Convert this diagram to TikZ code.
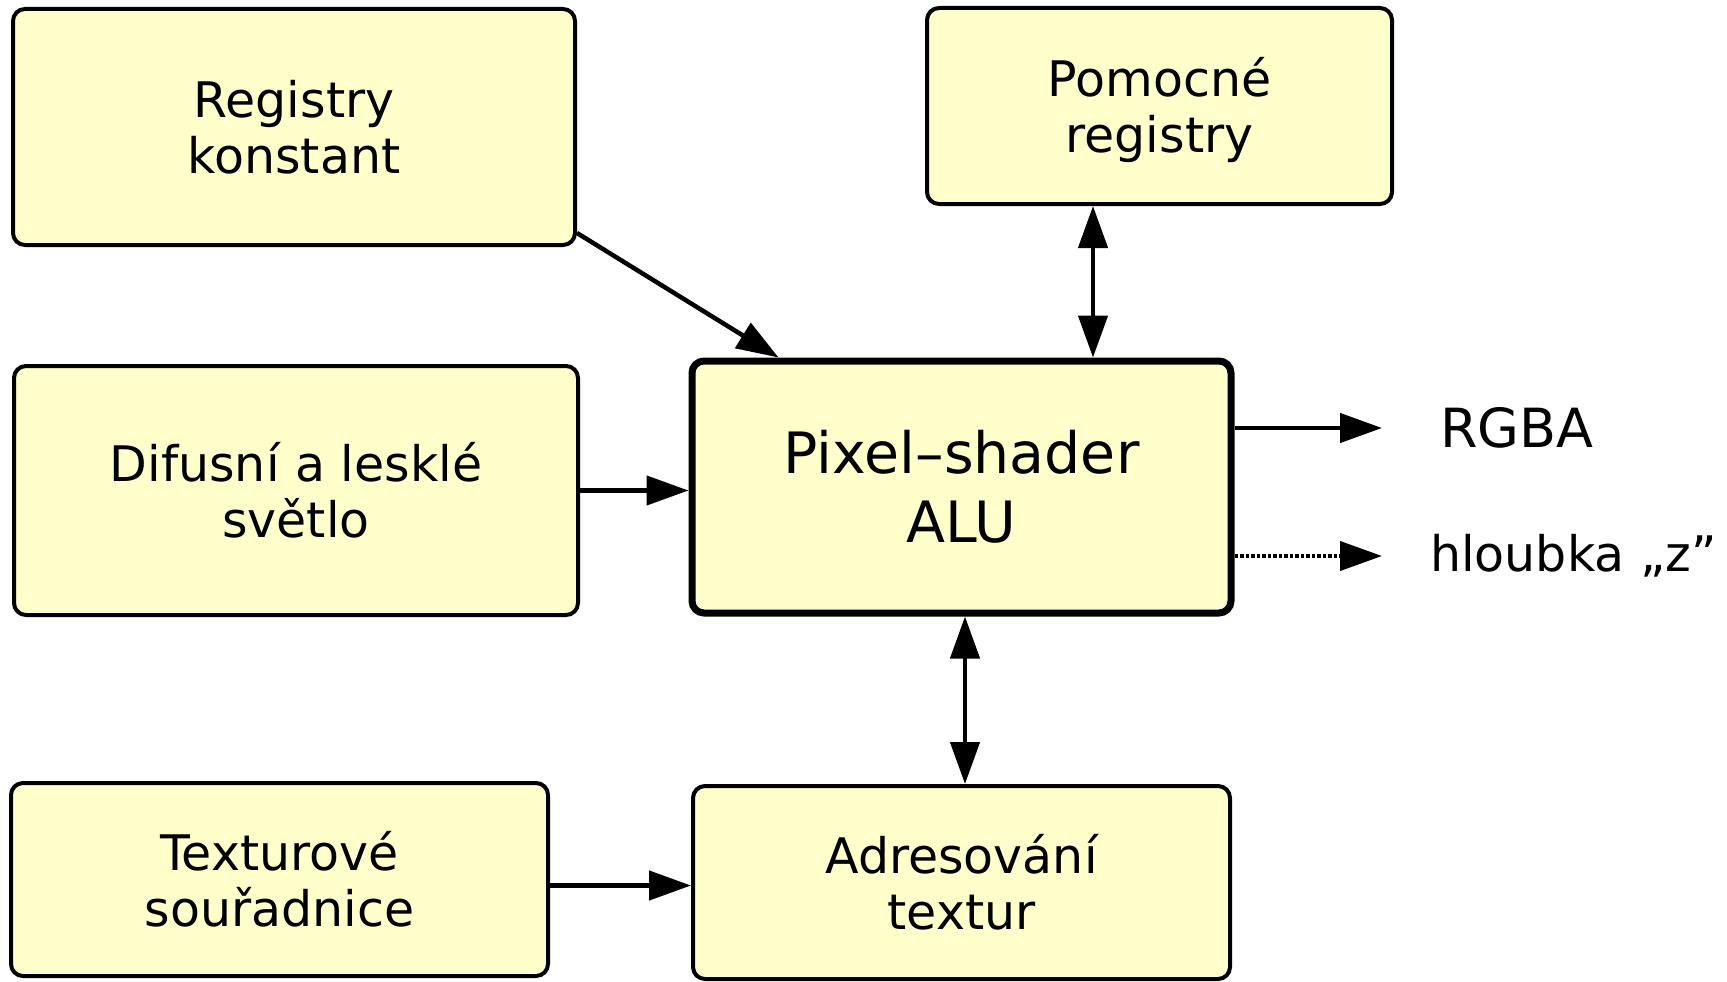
\documentclass[tikz,border=0pt]{standalone}
\usepackage{fontspec}
\setmainfont{DejaVu Sans}
\usetikzlibrary{arrows.meta,calc}
\definecolor{boxfill}{HTML}{FFFFCC}
\tikzset{
  block/.style={draw=black, fill=boxfill, line width=4pt, rounded corners=12pt,
    align=center, inner sep=0pt, font=\fontsize{49}{56}\selectfont},
  mainblock/.style={block, line width=7pt, font=\fontsize{57}{69}\selectfont},
  outlabel/.style={inner sep=0pt, anchor=west},
  tip/.tip={Triangle[length=42pt,width=29pt]},
  arr/.style={line width=4.5pt, -tip},
  biarr/.style={line width=4.5pt, tip-tip},
  dotarr/.style={line width=4pt, dash pattern=on 3.5pt off 2pt, -tip}
}
\begin{document}
\begin{tikzpicture}[x=1pt,y=-1pt]
\useasboundingbox (0,0) rectangle (1727,982);

% blocks
\node[block, minimum width=562pt, minimum height=236pt] (reg) at (294,127) {Registry\\konstant};
\node[block, minimum width=465pt, minimum height=196pt] (pom) at (1159.5,106) {\rule{0pt}{48pt}Pomocné\\registry};
\node[mainblock, minimum width=539pt, minimum height=252pt] (alu) at (961.5,487) {Pixel–shader\\ALU};
\node[block, minimum width=564pt, minimum height=249pt] (dif) at (296,490.5) {Difusní a lesklé\\světlo};
\node[block, minimum width=537pt, minimum height=193pt] (tex) at (279.5,879.5) {Texturové\\souřadnice};
\node[block, minimum width=537pt, minimum height=193pt] (adr) at (961.5,882.5) {Adresování\\textur};

% outputs
\node[outlabel, font=\fontsize{54}{60}\selectfont] (rgba) at (1440,428) {RGBA};
\node[outlabel, font=\fontsize{49}{56}\selectfont] (hl) at (1430,556) {hloubka „z”};

% connectors
\draw[arr] ([yshift=14pt]reg.south east) -- ([xshift=90pt]alu.north west);
\draw[biarr] ([xshift=-66.5pt]pom.south) -- ([xshift=131.5pt]alu.north);
\draw[arr] (dif.east) -- (dif.east -| alu.west);
\draw[arr] (alu.east |- rgba.west) -- ([xshift=-58pt]rgba.west);
\draw[dotarr] (alu.east |- hl.west) -- ([xshift=-48pt]hl.west);
\draw[biarr] ([xshift=3.5pt]alu.south) -- ([xshift=3.5pt]adr.north);
\draw[arr] ([yshift=-6pt]tex.east) -- ([yshift=-6pt]tex.east -| adr.west);
\end{tikzpicture}
\end{document}
